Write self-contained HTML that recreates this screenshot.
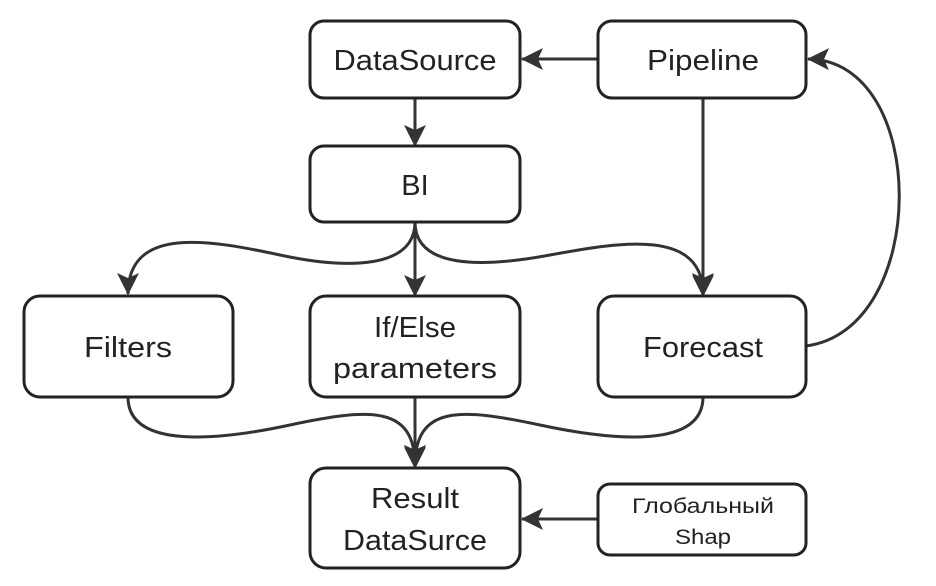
<!DOCTYPE html>
<html><head><meta charset="utf-8"><style>
html,body{margin:0;padding:0;background:#fff;}
svg{display:block;}
text{font-family:"Liberation Sans","DejaVu Sans",sans-serif;fill:#222;}
</style></head><body>
<svg width="936" height="586" viewBox="0 0 936 586" xmlns="http://www.w3.org/2000/svg">
<defs>
<marker id="a" viewBox="0 0 24 24" refX="22" refY="12" markerWidth="24" markerHeight="24" markerUnits="userSpaceOnUse" orient="auto">
<path d="M1,1 L23,12 L1,23 L6,12 Z" fill="#333"/>
</marker>
</defs>
<g fill="none" stroke="#333" stroke-width="3">
<path d="M598,59 L522,59" marker-end="url(#a)"/>
<path d="M415,98 L415,146" marker-end="url(#a)"/>
<path d="M415,222 L415,296" marker-end="url(#a)"/>
<path d="M415,222 C415,268 350,270 280,255 C210,240 128,225 128,294" marker-end="url(#a)"/>
<path d="M415,222 C415,268 480,268 550,255 C620,242 703,228 703,294" marker-end="url(#a)"/>
<path d="M703,98 L703,296" marker-end="url(#a)"/>
<path d="M806,346 C930,330 930,60 808,59" marker-end="url(#a)"/>
<path d="M415,397 L415,468" marker-end="url(#a)"/>
<path d="M128,397 C128,450 220,440 290,425 C370,408 415,405 415,466" marker-end="url(#a)"/>
<path d="M703,397 C703,450 610,440 540,425 C460,408 415,405 415,466" marker-end="url(#a)"/>
<path d="M598,519 L522,519" marker-end="url(#a)"/>
</g>
<g fill="#fff" stroke="#222" stroke-width="3">
<rect x="310" y="21" width="210" height="77" rx="14"/>
<rect x="598" y="21" width="208" height="77" rx="14"/>
<rect x="310" y="146" width="210" height="76" rx="14"/>
<rect x="24" y="296" width="209" height="101" rx="16"/>
<rect x="310" y="296" width="210" height="101" rx="16"/>
<rect x="598" y="296" width="208" height="101" rx="16"/>
<rect x="310" y="468" width="210" height="100" rx="16"/>
<rect x="598" y="484" width="208" height="71" rx="12"/>
</g>
<g font-size="29" text-anchor="middle" lengthAdjust="spacingAndGlyphs">
<text x="415" y="70" textLength="163" lengthAdjust="spacingAndGlyphs">DataSource</text>
<text x="703" y="70" textLength="112" lengthAdjust="spacingAndGlyphs">Pipeline</text>
<text x="415" y="195">BI</text>
<text x="128" y="357" textLength="88" lengthAdjust="spacingAndGlyphs">Filters</text>
<text x="415" y="337" textLength="82" lengthAdjust="spacingAndGlyphs">If/Else</text>
<text x="415" y="378" textLength="164" lengthAdjust="spacingAndGlyphs">parameters</text>
<text x="703" y="357" textLength="120" lengthAdjust="spacingAndGlyphs">Forecast</text>
<text x="415" y="508" textLength="88" lengthAdjust="spacingAndGlyphs">Result</text>
<text x="415" y="550" textLength="144" lengthAdjust="spacingAndGlyphs">DataSurce</text>
<text x="703" y="513" font-size="21" textLength="142" lengthAdjust="spacingAndGlyphs">Глобальный</text>
<text x="703" y="544" font-size="21" textLength="56" lengthAdjust="spacingAndGlyphs">Shap</text>
</g>
</svg>
</body></html>
